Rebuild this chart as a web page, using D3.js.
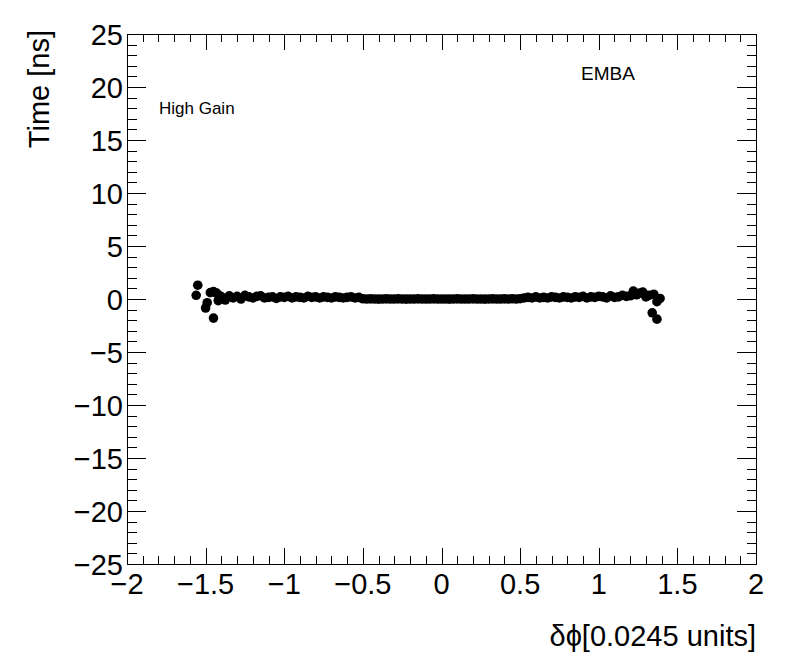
<!DOCTYPE html>
<html>
<head>
<meta charset="utf-8">
<script src="https://cdn.jsdelivr.net/npm/d3@7"></script>
<style>
  body { margin: 0; background: #fff; }
  text { font-family: "Liberation Sans", Arial, sans-serif; fill: #000; }
</style>
</head>
<body>
<div id="chart"></div>
<script>
// main band of points: delta phi and time
var phi = [
  -1.400, -1.375, -1.350, -1.325, -1.300, -1.275, -1.250, -1.225, -1.200, -1.175, -1.150, -1.125,
  -1.100, -1.075, -1.050, -1.025, -1.000, -0.975, -0.950, -0.925, -0.900, -0.875, -0.850, -0.825,
  -0.800, -0.775, -0.750, -0.725, -0.700, -0.675, -0.650, -0.625, -0.600, -0.575, -0.550, -0.525,
  -0.500, -0.475, -0.450, -0.425, -0.400, -0.375, -0.350, -0.325, -0.300, -0.275, -0.250, -0.225,
  -0.200, -0.175, -0.150, -0.125, -0.100, -0.075, -0.050, -0.025, 0.000, 0.025, 0.050, 0.075,
  0.100, 0.125, 0.150, 0.175, 0.200, 0.225, 0.250, 0.275, 0.300, 0.325, 0.350, 0.375,
  0.400, 0.425, 0.450, 0.475, 0.500, 0.525, 0.550, 0.575, 0.600, 0.625, 0.650, 0.675,
  0.700, 0.725, 0.750, 0.775, 0.800, 0.825, 0.850, 0.875, 0.900, 0.925, 0.950, 0.975,
  1.000, 1.025, 1.050, 1.075, 1.100, 1.125, 1.150, 1.175, 1.200
];
var time = [
  0.20, -0.10, 0.30, 0.10, 0.25, 0.00, 0.35, 0.20, 0.10, 0.25, 0.30, 0.10,
  0.15, 0.20, 0.05, 0.20, 0.15, 0.25, 0.10, 0.20, 0.15, 0.10, 0.25, 0.15,
  0.20, 0.10, 0.20, 0.15, 0.10, 0.20, 0.15, 0.10, 0.15, 0.20, 0.10, 0.15,
  0.02, 0.00, 0.01, 0.00, -0.01, 0.00, 0.01, 0.00, 0.00, 0.01, 0.00, -0.01,
  0.00, 0.00, 0.01, 0.00, 0.00, 0.00, 0.01, 0.00, 0.00, 0.00, -0.01, 0.00,
  0.01, 0.00, 0.00, 0.00, 0.01, 0.00, 0.00, -0.01, 0.00, 0.01, 0.00, 0.00,
  0.01, 0.00, 0.02, 0.00, 0.03, 0.10, 0.15, 0.10, 0.20, 0.10, 0.15, 0.10,
  0.20, 0.15, 0.10, 0.20, 0.15, 0.10, 0.20, 0.15, 0.25, 0.10, 0.20, 0.15,
  0.25, 0.20, 0.10, 0.30, 0.15, 0.20, 0.35, 0.25, 0.30
];
// scattered points at both ends
var edgePhi = [-1.56, -1.55, -1.50, -1.49, -1.47, -1.45, -1.45, -1.43, -1.42, -1.41,
               1.22, 1.24, 1.26, 1.28, 1.30, 1.32, 1.35, 1.34, 1.37, 1.37, 1.39];
var edgeTime = [0.35, 1.30, -0.85, -0.35, 0.60, 0.70, -1.80, 0.55, -0.15, 0.30,
                0.75, 0.40, 0.55, 0.65, 0.20, 0.35, 0.45, -1.30, -1.90, -0.25, 0.05];

var xTicks = [-2, -1.5, -1, -0.5, 0, 0.5, 1, 1.5, 2];
var yTicks = [-25, -20, -15, -10, -5, 0, 5, 10, 15, 20, 25];

var width = 796, height = 672;
var fLeft = 127, fRight = 756, fTop = 34, fBottom = 564;

var svg = d3.select("#chart").append("svg")
  .attr("width", width)
  .attr("height", height);

var x = d3.scaleLinear().domain([-2, 2]).range([fLeft, fRight]);
var y = d3.scaleLinear().domain([-25, 25]).range([fBottom, fTop]);

var xMinor = d3.range(-20, 21).map(d => d / 10);
var yMinor = d3.range(-25, 26);

var xLen = 16, yLen = 19;
var g = svg.append("g").attr("stroke", "#000").attr("stroke-width", 1).attr("shape-rendering", "crispEdges");

// ticks on bottom & top (pointing inward)
xMinor.forEach(function (v) {
  var major = Math.abs(v * 2 - Math.round(v * 2)) < 1e-6;
  var len = major ? xLen : xLen / 2;
  var px = Math.round(x(v)) + 0.5;
  g.append("line").attr("x1", px).attr("x2", px).attr("y1", fBottom).attr("y2", fBottom - len);
  g.append("line").attr("x1", px).attr("x2", px).attr("y1", fTop).attr("y2", fTop + len);
});
// ticks on left & right
yMinor.forEach(function (v) {
  var major = v % 5 === 0;
  var len = major ? yLen : yLen / 2;
  var py = Math.round(y(v)) + 0.5;
  g.append("line").attr("x1", fLeft).attr("x2", fLeft + len).attr("y1", py).attr("y2", py);
  g.append("line").attr("x1", fRight).attr("x2", fRight - len).attr("y1", py).attr("y2", py);
});

g.append("rect")
  .attr("x", fLeft + 0.5).attr("y", fTop + 0.5)
  .attr("width", fRight - fLeft).attr("height", fBottom - fTop)
  .attr("fill", "none");

function fmt(v) {
  return String(v).replace("-", "\u2212");
}

svg.selectAll(".xlab").data(xTicks).enter().append("text")
  .attr("x", d => x(d))
  .attr("y", 594)
  .attr("text-anchor", "middle")
  .style("font-size", "29px")
  .text(fmt);

svg.selectAll(".ylab").data(yTicks).enter().append("text")
  .attr("x", 123)
  .attr("y", d => y(d) + 10.5)
  .attr("text-anchor", "end")
  .style("font-size", "29px")
  .text(fmt);

svg.append("text")
  .attr("transform", "translate(49,30) rotate(-90)")
  .attr("text-anchor", "end")
  .style("font-size", "29px")
  .text("Time [ns]");

svg.append("text")
  .attr("x", 756)
  .attr("y", 646)
  .attr("text-anchor", "end")
  .style("font-size", "29px")
  .text("\u03b4\u03d5[0.0245 units]");

svg.append("text")
  .attr("x", 159)
  .attr("y", 114)
  .style("font-size", "17px")
  .text("High Gain");

svg.append("text")
  .attr("x", 581)
  .attr("y", 80)
  .style("font-size", "19px")
  .text("EMBA");

var pts = phi.map((d, i) => [d, time[i]])
  .concat(edgePhi.map((d, i) => [d, edgeTime[i]]));

svg.append("g").selectAll("circle")
  .data(pts)
  .enter()
  .append("circle")
  .attr("cx", d => x(d[0]))
  .attr("cy", d => y(d[1]))
  .attr("r", 4.8)
  .attr("fill", "#000");
</script>
</body>
</html>
